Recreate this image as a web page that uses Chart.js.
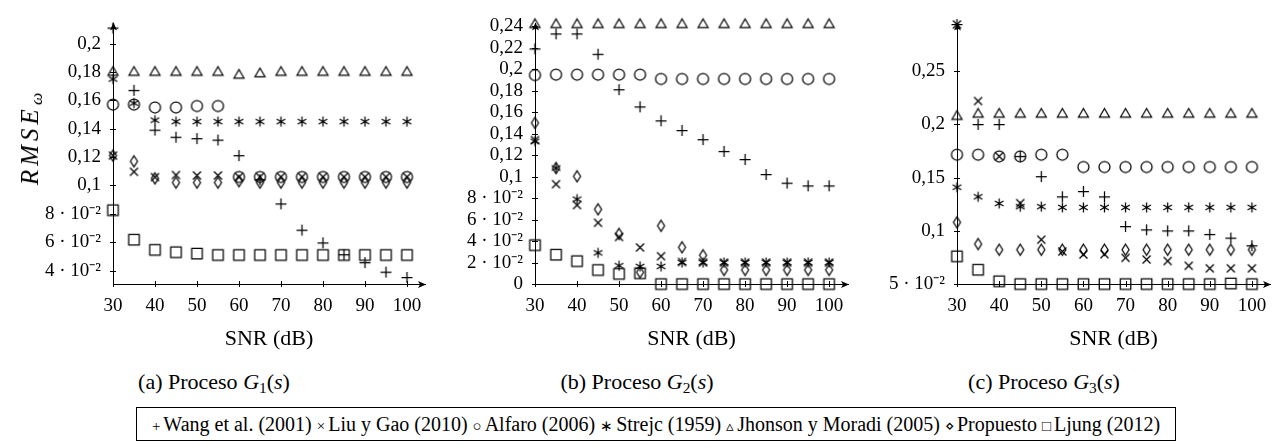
<!DOCTYPE html>
<html><head><meta charset="utf-8">
<script src="https://cdn.jsdelivr.net/npm/chart.js@4/dist/chart.umd.min.js"></script>
<style>
html,body{margin:0;padding:0;background:#fff;}
body{width:1282px;height:448px;position:relative;overflow:hidden;font-family:"Liberation Serif","Times New Roman",serif;color:#000;}
.pane{position:absolute;top:0;height:360px;}
.pane canvas{display:block;}
.cap{position:absolute;top:369px;font-size:22px;white-space:nowrap;transform:translateX(-50%);}
.cap sub{font-size:0.7em;vertical-align:-0.25em;line-height:0;}
#ytitle{position:absolute;left:30px;top:139px;transform:translate(-50%,-50%) rotate(-90deg);font-size:25px;font-style:italic;letter-spacing:4px;white-space:nowrap;}
#ytitle sub{font-size:0.7em;vertical-align:-0.25em;line-height:0;letter-spacing:0;}
#legend{position:absolute;left:136px;top:407px;width:1038px;height:32px;border:1px solid #000;font-size:20px;line-height:32px;text-align:center;white-space:nowrap;}
#legend .sym{font-size:15px;margin-right:3px;}
#warm{position:absolute;left:-500px;top:0;}
</style></head><body>
<canvas id="warm" width="200" height="40"></canvas>
<div class="pane" style="left:0;width:440px"><canvas id="ca" width="440" height="360"></canvas></div>
<div class="pane" style="left:420px;width:440px"><canvas id="cb" width="440" height="360"></canvas></div>
<div class="pane" style="left:840px;width:442px"><canvas id="cc" width="442" height="360"></canvas></div>
<div id="ytitle">RMSE<sub>ω</sub></div>
<div class="cap" style="left:214px">(a) Proceso <i>G</i><sub>1</sub>(<i>s</i>)</div>
<div class="cap" style="left:637px">(b) Proceso <i>G</i><sub>2</sub>(<i>s</i>)</div>
<div class="cap" style="left:1044px">(c) Proceso <i>G</i><sub>3</sub>(<i>s</i>)</div>
<div id="legend"></div>
<script>
// ---- data ----
const snr = [30,35,40,45,50,55,60,65,70,75,80,85,90,95,100];
const seriesNames = ["Wang et al. (2001)","Liu y Gao (2010)","Alfaro (2006)","Strejc (1959)","Jhonson y Moradi (2005)","Propuesto","Ljung (2012)"];
const legendSymbols = ["+","×","○","∗","▵","⋄","□"];

// Proceso G1(s)
const wangA    = [0.211,0.167,0.139,0.134,0.133,0.132,0.121,0.104,0.087,0.0685,0.0595,0.0512,0.0456,0.0389,0.0351];
const liuA     = [0.121,0.1096,0.1058,0.1073,0.107,0.107,0.106,0.106,0.106,0.106,0.106,0.106,0.106,0.106,0.106];
const alfaroA  = [0.157,0.157,0.155,0.155,0.156,0.156,0.106,0.106,0.106,0.106,0.106,0.106,0.106,0.106,0.106];
const strejcA  = [0.175,0.158,0.146,0.145,0.145,0.145,0.145,0.145,0.145,0.145,0.145,0.145,0.145,0.145,0.145];
const jhonsonA = [0.18,0.18,0.18,0.18,0.18,0.18,0.178,0.179,0.18,0.18,0.18,0.18,0.18,0.18,0.18];
const propA    = [0.121,0.117,0.105,0.102,0.102,0.102,0.103,0.102,0.102,0.102,0.102,0.102,0.102,0.102,0.102];
const ljungA   = [0.0826,0.0618,0.0546,0.053,0.052,0.051,0.051,0.051,0.051,0.051,0.051,0.051,0.051,0.051,0.051];

// Proceso G2(s)
const wangB    = [0.219,0.233,0.233,0.214,0.181,0.165,0.152,0.143,0.1345,0.1235,0.116,0.102,0.094,0.0914,0.0914];
const liuB     = [0.134,0.093,0.0735,0.057,0.0438,0.034,0.0259,0.0205,0.02,0.02,0.02,0.02,0.02,0.02,0.02];
const alfaroB  = [0.1946,0.195,0.195,0.195,0.195,0.195,0.191,0.191,0.191,0.191,0.191,0.191,0.191,0.191,0.191];
const strejcB  = [0.133,0.108,0.079,0.029,0.017,0.0164,0.0164,0.02,0.02,0.02,0.02,0.02,0.02,0.02,0.02];
const jhonsonB = [0.242,0.242,0.242,0.242,0.242,0.242,0.242,0.242,0.242,0.242,0.242,0.242,0.242,0.242,0.242];
const propB    = [0.150,0.108,0.1003,0.0696,0.0467,0.011,0.0542,0.0342,0.0268,0.0131,0.0131,0.0131,0.0131,0.0131,0.0131];
const ljungB   = [0.0363,0.0274,0.0214,0.0131,0.0095,0.0101,0,0,0,0,0,0,0,0,0];

// Proceso G3(s)
const wangC    = [0.294,0.2,0.2,0.17,0.151,0.132,0.137,0.132,0.104,0.101,0.1,0.1,0.0966,0.0932,0.086];
const liuC     = [0.294,0.222,0.17,0.126,0.0917,0.0806,0.0777,0.078,0.0746,0.073,0.0716,0.0671,0.0647,0.0647,0.0647];
const alfaroC  = [0.1716,0.1716,0.17,0.17,0.1716,0.1716,0.16,0.16,0.16,0.16,0.16,0.16,0.16,0.16,0.16];
const strejcC  = [0.141,0.132,0.1257,0.1227,0.1227,0.122,0.122,0.122,0.122,0.122,0.122,0.122,0.122,0.122,0.122];
const jhonsonC = [0.208,0.21,0.21,0.21,0.21,0.21,0.21,0.21,0.21,0.21,0.21,0.21,0.21,0.21,0.21];
const propC    = [0.108,0.0876,0.0822,0.0822,0.0822,0.0822,0.0822,0.0822,0.0822,0.0822,0.0822,0.0822,0.0822,0.0822,0.0822];
const ljungC   = [0.0761,0.0635,0.0527,0.05,0.05,0.05,0.05,0.05,0.05,0.05,0.05,0.05,0.05,0.0506,0.05];

// ticks
const xTicks = [30,40,50,60,70,80,90,100];
const yTicksA = [0.04,0.06,0.08,0.1,0.12,0.14,0.16,0.18,0.2];
const yLabelsA = ["4 · 10⁻²","6 · 10⁻²","8 · 10⁻²","0,1","0,12","0,14","0,16","0,18","0,2"];
const yTicksB = [0,0.02,0.04,0.06,0.08,0.1,0.12,0.14,0.16,0.18,0.2,0.22,0.24];
const yLabelsB = ["0","2 · 10⁻²","4 · 10⁻²","6 · 10⁻²","8 · 10⁻²","0,1","0,12","0,14","0,16","0,18","0,2","0,22","0,24"];
const yTicksC = [0.05,0.1,0.15,0.2,0.25];
const yLabelsC = ["5 · 10⁻²","0,1","0,15","0,2","0,25"];

const SERIF = '"Liberation Serif", "Times New Roman", serif';

// warm up the serif face for canvas text
(function(){const w=document.getElementById('warm').getContext('2d');
  w.font='19px "Liberation Serif", serif'; w.fillText('0,18 30 40 SNR (dB)',2,20);
  w.font='22px "Liberation Serif", serif'; w.fillText('SNR (dB)',2,38);})();

// ---- markers ----
function mk(draw){
  const c=document.createElement('canvas'); c.width=15; c.height=15;
  const g=c.getContext('2d'); g.strokeStyle='#000'; g.lineWidth=1.25; g.translate(7.5,7.5);
  g.beginPath(); draw(g); g.stroke(); return c;
}
const markers = [
  mk(g=>{g.moveTo(-5.5,0);g.lineTo(5.5,0);g.moveTo(0,-5.5);g.lineTo(0,5.5);}),
  mk(g=>{g.moveTo(-4,-4);g.lineTo(4,4);g.moveTo(-4,4);g.lineTo(4,-4);}),
  mk(g=>{g.arc(0,0,5.5,0,Math.PI*2);}),
  mk(g=>{g.moveTo(0,-5);g.lineTo(0,5);g.moveTo(-4.33,-2.5);g.lineTo(4.33,2.5);g.moveTo(-4.33,2.5);g.lineTo(4.33,-2.5);}),
  mk(g=>{g.moveTo(0,-5.3);g.lineTo(5,3.3);g.lineTo(-5,3.3);g.closePath();}),
  mk(g=>{g.moveTo(0,-5.5);g.lineTo(3.5,0);g.lineTo(0,5.5);g.lineTo(-3.5,0);g.closePath();}),
  mk(g=>{g.rect(-5.25,-5.25,10.5,10.5);})
];

const axisDeco = {
  id:'axisDeco',
  beforeDraw(chart){ chart.scales.x._resolveTickFontOptions(0); chart.scales.y._resolveTickFontOptions(0); },
  afterDraw(chart){
    const {ctx, chartArea:a, scales:{x,y}} = chart;
    ctx.save(); ctx.strokeStyle='#000'; ctx.fillStyle='#000'; ctx.lineWidth=1;
    ctx.beginPath();
    x.ticks.forEach(t=>{const px=Math.round(x.getPixelForValue(t.value))+0.5; ctx.moveTo(px,a.bottom-3); ctx.lineTo(px,a.bottom+3);});
    y.ticks.forEach(t=>{const py=Math.round(y.getPixelForValue(t.value))+0.5; ctx.moveTo(a.left-3,py); ctx.lineTo(a.left+3,py);});
    ctx.stroke();
    const bx=a.right, by=Math.round(a.bottom)+0.5;
    ctx.beginPath(); ctx.moveTo(bx+1,by); ctx.lineTo(bx-7,by-3.5); ctx.lineTo(bx-5,by); ctx.lineTo(bx-7,by+3.5); ctx.closePath(); ctx.fill();
    const lx=Math.round(a.left)+0.5, ty=a.top;
    ctx.beginPath(); ctx.moveTo(lx,ty-1); ctx.lineTo(lx-3.5,ty+7); ctx.lineTo(lx,ty+5); ctx.lineTo(lx+3.5,ty+7); ctx.closePath(); ctx.fill();
    ctx.restore();
  }
};

function panelConfig(series, yTicks, yLabels, ymin, ymax, xmax, yw, padR){
  return {
    type:'scatter',
    data:{datasets: series.map((vals,i)=>({
      label: seriesNames[i],
      data: snr.map((s,k)=>({x:s,y:vals[k]})),
      pointStyle: markers[i], pointRadius:6, showLine:false, clip:false
    }))},
    options:{
      responsive:false, animation:false, events:[],
      layout:{padding:{top:12,right:padR,left:0,bottom:0}},
      plugins:{legend:{display:false},tooltip:{enabled:false}},
      scales:{
        x:{type:'linear',min:30,max:xmax,
          afterBuildTicks:s=>{s.ticks=xTicks.map(v=>({value:v}));},
          afterFit:s=>{s.height=76;},
          grid:{display:false,drawTicks:false},
          border:{display:true,color:'#000',width:1},
          ticks:{color:'#000',font:{family:SERIF,size:19},padding:11,maxRotation:0,autoSkip:false,callback:(v,i)=>String(xTicks[i])},
          title:{display:true,text:'SNR (dB)',color:'#000',font:{family:SERIF,size:22},padding:{top:0,bottom:8}}
        },
        y:{type:'linear',min:ymin,max:ymax,
          afterBuildTicks:s=>{s.ticks=yTicks.map(v=>({value:v}));},
          afterFit:s=>{s.width=yw;},
          grid:{display:false,drawTicks:false},
          border:{display:true,color:'#000',width:1},
          ticks:{color:'#000',font:{family:SERIF,size:19},padding:12,autoSkip:false,callback:(v,i)=>yLabels[i]}
        }
      }
    },
    plugins:[axisDeco]
  };
}

const charts = [
  new Chart(document.getElementById('ca'), panelConfig([wangA,liuA,alfaroA,strejcA,jhonsonA,propA,ljungA],yTicksA,yLabelsA,0.0305,0.2142,104.3,113,15)),
  new Chart(document.getElementById('cb'), panelConfig([wangB,liuB,alfaroB,strejcB,jhonsonB,propB,ljungB],yTicksB,yLabelsB,0,0.2427,104.5,115,12)),
  new Chart(document.getElementById('cc'), panelConfig([wangC,liuC,alfaroC,strejcC,jhonsonC,propC,ljungC],yTicksC,yLabelsC,0.05,0.295,104.3,117,12))
];

document.getElementById('legend').innerHTML = seriesNames.map((n,i)=>'<span class="sym">'+legendSymbols[i]+'</span>'+n).join(' ');

// redraw once fonts are settled
function redraw(){ charts.forEach(c=>c.update('none')); }
requestAnimationFrame(redraw);
setTimeout(redraw,200);
if (document.fonts && document.fonts.ready) document.fonts.ready.then(redraw);
</script>
</body></html>
